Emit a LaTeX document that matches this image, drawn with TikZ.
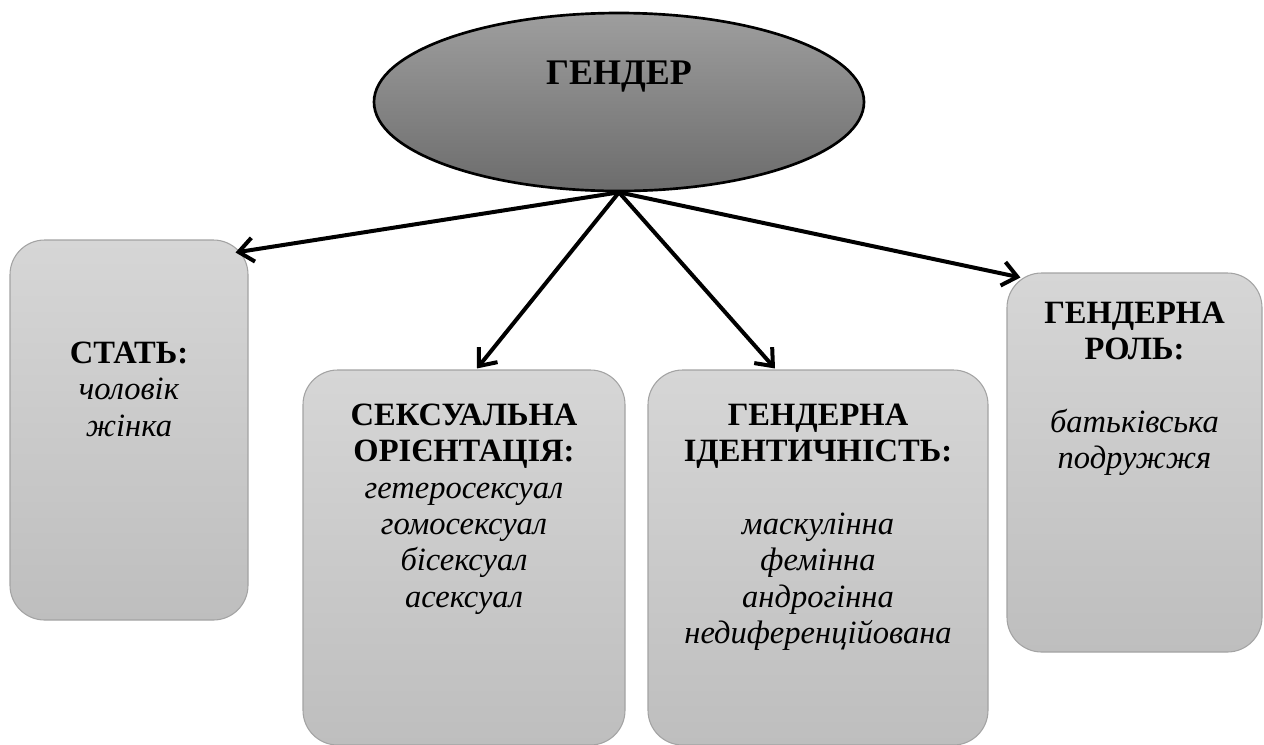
\documentclass[tikz,border=0pt]{standalone}
\usepackage{fontspec}
\setmainfont{Liberation Serif}
\usetikzlibrary{shapes.geometric,arrows.meta}
\definecolor{boxtop}{HTML}{D6D6D6}
\definecolor{boxbot}{HTML}{BEBEBE}
\definecolor{boxline}{HTML}{A3A3A3}
\definecolor{elltop}{HTML}{9E9E9E}
\definecolor{ellbot}{HTML}{6C6C6C}
\tikzset{
  catbox/.style={draw=boxline, line width=0.8pt, rounded corners=26pt, top color=boxtop, bottom color=boxbot, inner sep=0pt},
  catlabel/.style={anchor=north, inner sep=0pt, align=center, font=\fontsize{24.4}{27.3}\selectfont},
  link/.style={line width=3pt, -{Straight Barb[length=11pt,width=18pt,line width=3pt]}},
}
\newcommand{\firstline}{\rule{0pt}{20pt}}
\begin{document}
\begin{tikzpicture}[x=0.75pt,y=-0.75pt]
\useasboundingbox (0,0) rectangle (1264,744);
% top ellipse
\node[ellipse, draw=black, line width=2pt, top color=elltop, bottom color=ellbot,
      minimum width=367.5pt, minimum height=133.5pt, inner sep=0pt] (gen) at (619,102) {};
\node[anchor=base, inner sep=0pt, font=\fontsize{27}{30}\selectfont\bfseries] (gentext) at (619,84) {ГЕНДЕР};
% boxes
\node[catbox, minimum width=178.5pt, minimum height=285pt] (b1) at (129,430) {};
\node[catbox, minimum width=241.5pt, minimum height=281.25pt] (b2) at (464,557.5) {};
\node[catbox, minimum width=255pt, minimum height=281.25pt] (b3) at (818,557.5) {};
\node[catbox, minimum width=191.25pt, minimum height=284.25pt] (b4) at (1134.5,462.5) {};
% labels
\node[catlabel] (t1) at (129,336.3) {\firstline\textbf{СТАТЬ:}\\\textit{чоловік}\\\textit{жінка}};
\node[catlabel] (t2) at (464,398.3) {\firstline\textbf{СЕКСУАЛЬНА}\\\textbf{ОРІЄНТАЦІЯ:}\\\textit{гетеросексуал}\\\textit{гомосексуал}\\\textit{бісексуал}\\\textit{асексуал}};
\node[catlabel] (t3) at (818,398.3) {\firstline\textbf{ГЕНДЕРНА}\\\textbf{ІДЕНТИЧНІСТЬ:}\\[27.3pt]\textit{маскулінна}\\\textit{фемінна}\\\textit{андрогінна}\\\textit{недиференційована}};
\node[catlabel] (t4) at (1134.5,296.3) {\firstline\textbf{ГЕНДЕРНА}\\\textbf{РОЛЬ:}\\[27.3pt]\textit{батьківська}\\\textit{подружжя}};
% connectors
\draw[link] (gen.south) -- ([shift={(-13,13)}]b1.north east);
\draw[link] (gen.south) -- ([shift={(13,-1)}]b2.north);
\draw[link] (gen.south) -- ([shift={(-43,-1)}]b3.north);
\draw[link] (gen.south) -- ([shift={(14,5)}]b4.north west);
\end{tikzpicture}
\end{document}
